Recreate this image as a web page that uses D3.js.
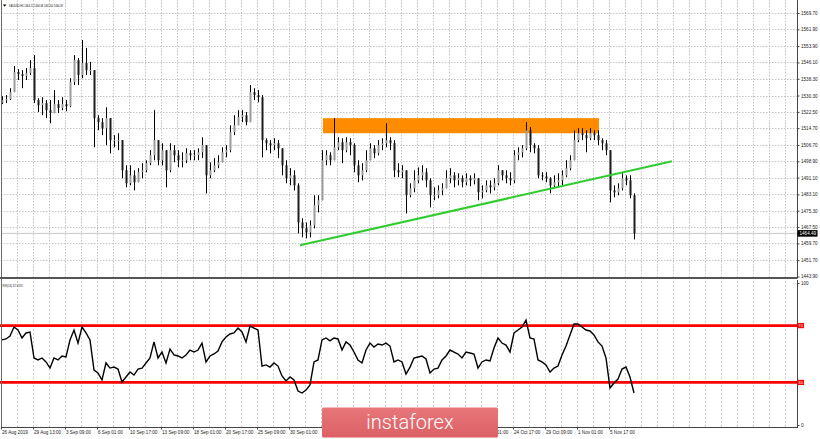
<!DOCTYPE html>
<html><head><meta charset="utf-8">
<script src="https://cdn.jsdelivr.net/npm/d3@7"></script>
<style>html,body{margin:0;padding:0;background:#fff;overflow:hidden}</style>
</head><body>
<svg id="c" width="820" height="439"></svg>
<script>
// ---------- DATA ----------
const symbolTitle = "XAUUSD,H4 1464.22 1464.68 1461.60 1464.49";
const rsiTitle = "RSI(14) 22.5374";
const firstOpen = 1527.0;
const highs = [
1530.0,1530.5,1533.8,1544.4,1542.9,1542.4,1543.4,1547.2,1549.6,1529.0,
1529.5,1528.1,1528.1,1532.9,1528.1,1529.5,1528.1,1538.6,1549.6,1548.2,
1556.8,1553.0,1546.3,1541.5,1520.9,1519.5,1524.7,1518.5,1511.4,1512.3,
1509.0,1497.0,1497.0,1494.6,1495.6,1498.0,1499.4,1504.2,1523.3,1506.6,
1507.5,1504.2,1507.5,1506.6,1504.2,1503.2,1505.1,1504.2,1504.2,1505.1,
1510.4,1506.6,1498.4,1500.4,1501.8,1505.6,1506.6,1516.1,1520.9,1523.3,
1523.3,1522.4,1535.3,1533.8,1532.9,1530.5,1509.9,1509.0,1509.9,1509.0,
1505.1,1499.4,1495.6,1494.6,1488.4,1471.7,1469.7,1470.7,1482.7,1482.7,
1504.2,1504.2,1503.2,1519.5,1510.4,1509.9,1510.4,1509.9,1507.5,1499.4,
1498.0,1504.2,1507.5,1506.6,1509.0,1509.9,1517.1,1510.4,1509.0,1498.0,
1497.0,1494.6,1488.4,1494.6,1496.0,1497.0,1495.6,1490.8,1486.5,1487.4,
1488.4,1494.6,1495.6,1493.7,1493.2,1492.2,1493.2,1492.2,1493.2,1490.8,
1487.4,1489.8,1489.8,1490.8,1497.0,1494.6,1494.6,1493.7,1504.2,1505.6,
1506.6,1517.6,1515.2,1507.5,1506.6,1493.7,1493.7,1491.3,1492.2,1493.2,
1494.6,1499.4,1501.8,1513.7,1514.7,1514.7,1513.7,1514.7,1513.7,1513.7,
1509.9,1509.0,1501.8,1487.4,1488.4,1493.2,1492.2,1492.2,1483.6];
const lows = [
1526.2,1526.7,1528.1,1531.9,1537.7,1533.8,1537.7,1540.1,1526.7,1522.4,
1520.9,1519.5,1517.1,1522.4,1521.9,1523.3,1522.8,1524.7,1535.3,1535.3,
1538.6,1540.1,1540.1,1505.6,1513.7,1511.4,1506.6,1502.7,1505.6,1504.2,
1490.8,1486.5,1487.4,1485.0,1488.9,1490.8,1493.7,1497.0,1499.4,1497.0,
1497.0,1486.5,1493.7,1498.4,1496.0,1496.0,1498.0,1499.4,1499.4,1499.4,
1500.4,1483.6,1490.8,1493.7,1495.6,1499.4,1500.8,1503.2,1511.4,1516.1,
1517.6,1516.1,1517.6,1528.1,1527.1,1500.8,1504.2,1502.7,1504.2,1500.4,
1492.2,1488.4,1487.4,1485.0,1464.5,1462.6,1462.1,1462.6,1466.9,1474.5,
1480.3,1497.0,1497.0,1499.4,1504.2,1498.0,1503.2,1501.8,1493.7,1488.9,
1489.8,1493.7,1499.4,1500.4,1501.8,1504.2,1505.6,1504.2,1491.3,1491.3,
1490.8,1474.0,1481.7,1484.1,1488.4,1489.8,1486.5,1476.9,1480.3,1481.2,
1482.7,1486.0,1488.4,1486.5,1487.4,1486.5,1487.4,1487.0,1487.9,1480.3,
1481.2,1484.1,1483.6,1485.0,1487.4,1489.8,1488.4,1487.4,1488.4,1499.4,
1500.8,1504.2,1503.2,1502.7,1490.8,1489.8,1488.9,1483.6,1486.0,1486.5,
1487.4,1491.3,1494.6,1499.4,1508.0,1509.0,1503.2,1509.0,1509.0,1506.6,
1504.2,1501.8,1479.3,1481.7,1482.7,1485.0,1487.4,1481.2,1461.6];
const closes = [
1528.1,1528.6,1531.9,1541.5,1540.5,1539.6,1541.0,1543.4,1528.1,1525.7,
1526.7,1523.3,1521.9,1526.2,1524.3,1526.2,1525.2,1536.7,1547.2,1540.1,
1545.8,1542.4,1542.4,1519.5,1517.6,1514.7,1519.5,1509.0,1509.0,1509.0,
1494.6,1488.4,1492.2,1488.9,1493.7,1494.6,1498.0,1501.8,1509.0,1499.4,
1504.2,1494.6,1504.2,1501.8,1499.4,1499.4,1502.7,1501.8,1501.8,1503.2,
1506.6,1492.2,1494.6,1497.0,1498.4,1503.2,1504.2,1512.8,1516.1,1520.0,
1520.9,1517.6,1531.9,1530.5,1529.5,1509.0,1507.5,1506.6,1507.5,1505.1,
1497.0,1490.8,1492.2,1487.4,1469.7,1466.9,1465.0,1468.3,1477.9,1480.3,
1499.4,1501.8,1499.4,1505.6,1508.0,1504.2,1508.0,1506.6,1497.0,1492.2,
1494.6,1499.4,1505.1,1502.7,1506.6,1507.5,1509.0,1507.5,1494.6,1493.7,
1494.6,1482.7,1486.0,1489.8,1492.2,1493.7,1489.8,1482.7,1482.7,1485.0,
1486.0,1490.8,1492.2,1489.8,1490.8,1488.9,1490.8,1489.8,1490.8,1484.1,
1485.0,1487.4,1486.5,1488.4,1494.6,1492.2,1490.8,1489.8,1501.8,1503.2,
1505.1,1513.7,1506.6,1505.1,1492.2,1491.7,1490.8,1487.4,1488.9,1489.8,
1492.2,1495.6,1499.4,1509.0,1512.3,1511.4,1509.9,1512.3,1511.4,1509.0,
1507.5,1504.2,1485.0,1484.1,1486.0,1490.8,1489.8,1482.7,1464.49];
const rsi = [
59.9,60.6,62.7,69.0,66.9,61.3,64.8,65.5,47.2,45.8,
47.2,44.4,40.1,47.2,45.8,48.6,47.9,59.9,66.9,57.7,
69.0,64.8,59.9,38.7,36.6,31.7,43.7,40.1,40.8,39.4,
30.3,33.8,37.3,35.2,39.4,40.1,43.7,47.2,58.5,47.2,
51.4,43.7,53.5,49.3,48.6,47.2,49.3,52.8,51.4,52.8,
57.7,44.4,48.6,50.0,52.1,58.5,62.0,64.1,64.8,68.3,
65.5,58.5,69.7,68.3,66.9,41.5,42.3,40.8,43.7,41.5,
34.5,31.0,33.8,31.7,23.9,22.5,24.6,28.2,44.4,45.8,
59.9,61.3,59.2,61.3,60.6,52.8,58.5,56.3,51.4,45.8,
43.7,52.8,57.7,54.9,57.0,56.3,57.7,55.6,44.4,45.8,
44.4,35.9,40.8,47.2,47.9,48.6,46.5,36.6,39.4,40.1,
45.8,48.6,52.8,51.4,50.0,47.2,51.4,50.7,50.0,40.1,
44.4,45.8,45.1,54.2,61.3,57.7,56.3,51.4,64.8,66.9,
69.0,73.9,61.3,60.6,45.8,44.4,42.3,37.3,40.1,41.5,
49.3,55.6,63.4,71.1,71.1,69.0,66.9,66.2,63.4,58.5,
55.6,47.2,26.1,29.6,32.4,39.4,40.8,33.8,22.54];
const priceTicks = [1569.70,1561.90,1553.90,1546.10,1538.30,1530.30,1522.50,1514.70,1506.70,1498.90,1491.10,1483.10,1475.30,1467.50,1459.70,1451.70,1443.90];
const timeLabels = ["26 Aug 2019","29 Aug 13:00","3 Sep 09:00","6 Sep 01:00","10 Sep 17:00","13 Sep 09:00","18 Sep 01:00","20 Sep 17:00","25 Sep 09:00","30 Sep 01:00","2 Oct 17:00","7 Oct 09:00","10 Oct 01:00","14 Oct 17:00","17 Oct 09:00","22 Oct 01:00","24 Oct 17:00","29 Oct 09:00","1 Nov 01:00","5 Nov 17:00"];
const lastPrice = 1464.49;
const rsiLevels = [70, 30];
const rsiAxisTicks = [100, 0];
// drawn objects (bar index / price coordinates)
const resistanceZone = {i0: 80.25, i1: 149.25, top: 1519.5, bottom: 1512.3};
const trendLine = {i0: 74.5, p0: 1458.8, i1: 167.5, p1: 1498.9};

// ---------- SCALES ----------
const svg = d3.select('#c');
const FONT = "'Liberation Sans', Arial, sans-serif";
const right = 797;
const logoBox = {x: 322, y: 407.5, w: 176, h: 30};
const x = d3.scaleLinear().domain([0, 158]).range([2, 634]);
const y = d3.scaleLinear().domain([1443.9, 1569.7]).range([276.5, 13]);
const yr = d3.scaleLinear().domain([0, 100]).range([425, 283]);
const gridIdx = d3.range(1, 50).map(k => 4 * k - 0.25);
const labelIdx = timeLabels.map((t, k) => 8 * k - 0.25);

svg.append('rect').attr('width', 820).attr('height', 439).attr('fill', '#fff');

// ---------- GRID ----------
const grid = svg.append('g').attr('stroke', '#c4c4c4').attr('stroke-width', 1).attr('stroke-dasharray', '1.5,1.5');
grid.selectAll('line.h').data(priceTicks).join('line')
  .attr('x1', 1).attr('x2', right).attr('y1', d => Math.round(y(d)) + 0.5).attr('y2', d => Math.round(y(d)) + 0.5);
grid.selectAll('line.v').data(gridIdx).join('line')
  .attr('x1', d => Math.round(x(d)) + 0.5).attr('x2', d => Math.round(x(d)) + 0.5).attr('y1', 0).attr('y2', 278);
const grid2 = svg.append('g').attr('stroke', '#cfcfcf').attr('stroke-width', 1).attr('stroke-dasharray', '2,2');
grid2.selectAll('line').data(gridIdx).join('line')
  .attr('x1', d => Math.round(x(d)) + 0.5).attr('x2', d => Math.round(x(d)) + 0.5).attr('y1', 281).attr('y2', 427);

// current price line
svg.append('line').attr('x1', 1).attr('x2', right).attr('y1', y(lastPrice)).attr('y2', y(lastPrice))
  .attr('stroke', '#c8c8c8').attr('stroke-width', 1);

// ---------- RESISTANCE ZONE ----------
svg.append('rect')
  .attr('x', x(resistanceZone.i0)).attr('width', x(resistanceZone.i1) - x(resistanceZone.i0))
  .attr('y', y(resistanceZone.top)).attr('height', y(resistanceZone.bottom) - y(resistanceZone.top))
  .attr('fill', '#ff8c00');

// ---------- CANDLES ----------
const bars = closes.map((c, i) => ({i, o: i ? closes[i - 1] : firstOpen, h: highs[i], l: lows[i], c}));
const cg = svg.append('g');
cg.selectAll('line').data(bars).join('line')
  .attr('x1', d => Math.round(x(d.i)) + 0.5).attr('x2', d => Math.round(x(d.i)) + 0.5)
  .attr('y1', d => y(Math.max(d.h, d.o, d.c))).attr('y2', d => y(Math.min(d.l, d.o, d.c)))
  .attr('stroke', '#000').attr('stroke-width', 1);
cg.selectAll('rect').data(bars).join('rect')
  .attr('x', d => Math.round(x(d.i)) - 0.5).attr('width', 2)
  .attr('y', d => y(Math.max(d.o, d.c)))
  .attr('height', d => Math.max(1, Math.abs(y(d.o) - y(d.c))))
  .attr('fill', d => d.c >= d.o ? '#9c9c9c' : '#1c1c1c');

// ---------- TRENDLINE ----------
svg.append('line')
  .attr('x1', x(trendLine.i0)).attr('y1', y(trendLine.p0))
  .attr('x2', x(trendLine.i1)).attr('y2', y(trendLine.p1))
  .attr('stroke', '#2ecc2e').attr('stroke-width', 2);

// ---------- RSI ----------
svg.selectAll('line.lvl').data(rsiLevels).join('line').attr('class', 'lvl')
  .attr('x1', 0).attr('x2', right).attr('y1', d => yr(d)).attr('y2', d => yr(d))
  .attr('stroke', '#ff0000').attr('stroke-width', 2.6);
svg.append('path').datum(rsi)
  .attr('d', d3.line().x((d, i) => x(i)).y(d => yr(d)))
  .attr('fill', 'none').attr('stroke', '#000').attr('stroke-width', 1.4);

// ---------- FRAME ----------
svg.append('line').attr('x1', 1.5).attr('x2', 1.5).attr('y1', 0).attr('y2', 428).attr('stroke', '#6a6a6a');
svg.append('line').attr('x1', 0).attr('x2', right + 0.5).attr('y1', 278).attr('y2', 278).attr('stroke', '#555').attr('stroke-width', 1.8);

// price axis
const ya = svg.append('g').attr('transform', `translate(${right + 0.5},0)`)
  .call(d3.axisRight(y).tickValues(priceTicks).tickFormat(d3.format('.2f')).tickSize(2).tickPadding(1.5));
ya.select('.domain').attr('d', 'M0,0V278').attr('stroke', '#444');
ya.selectAll('text').attr('font-family', FONT).attr('font-size', 4.6).attr('fill', '#222');
ya.selectAll('line').attr('stroke', '#444');

// rsi axis
const ra = svg.append('g').attr('transform', `translate(${right + 0.5},0)`)
  .call(d3.axisRight(yr).tickValues(rsiAxisTicks).tickFormat(d3.format('d')).tickSize(2).tickPadding(1.5));
ra.select('.domain').attr('d', 'M0,280V428').attr('stroke', '#444');
ra.selectAll('text').attr('font-family', FONT).attr('font-size', 4.6).attr('fill', '#222');
ra.selectAll('line').attr('stroke', '#444');

// rsi level tags
const lt = svg.selectAll('g.lt').data(rsiLevels).join('g').attr('class', 'lt')
  .attr('transform', d => `translate(${right + 0.5},${yr(d)})`);
lt.append('rect').attr('x', 0).attr('y', -2.6).attr('width', 6.5).attr('height', 5.2).attr('fill', '#ff0000');
lt.append('text').attr('x', 0.8).attr('y', 1.6).text(d => d).attr('font-family', FONT).attr('font-size', 4.2).attr('fill', '#fff');

// last price tag
const lp = svg.append('g').attr('transform', `translate(${right + 0.5},${y(lastPrice)})`);
lp.append('rect').attr('x', 0).attr('y', -3.3).attr('width', 20).attr('height', 6.6).attr('fill', '#000');
lp.append('text').attr('x', 2).attr('y', 1.7).text(d3.format('.2f')(lastPrice))
  .attr('font-family', FONT).attr('font-size', 4.6).attr('fill', '#fff');

// time axis (labels lying under the watermark are hidden by it, as in the reference)
const ta = svg.append('g').attr('transform', 'translate(0,427.5)')
  .call(d3.axisBottom(x).tickValues(labelIdx).tickFormat((d, k) => timeLabels[k]).tickSize(2).tickPadding(1.5));
ta.select('.domain').attr('d', `M1,0H${right + 0.5}`).attr('stroke', '#444');
ta.selectAll('line').attr('stroke', '#444');
ta.selectAll('text').attr('font-family', FONT).attr('font-size', 4.6).attr('fill', '#222')
  .attr('text-anchor', 'start').attr('dx', 0.5);
ta.selectAll('.tick').filter(d => x(d) > logoBox.x - 4 && x(d) + 26 < logoBox.x + logoBox.w + 4).remove();

// titles
svg.append('path').attr('d', 'M3,4.5L6.4,4.5L4.7,6.8Z').attr('fill', '#000');
svg.append('text').attr('x', 9).attr('y', 7).text(symbolTitle)
  .attr('font-family', FONT).attr('font-size', 3.8).attr('fill', '#111')
  .attr('textLength', 54).attr('lengthAdjust', 'spacingAndGlyphs');
svg.append('text').attr('x', 2.5).attr('y', 286.5).text(rsiTitle)
  .attr('font-family', FONT).attr('font-size', 3.6).attr('fill', '#111')
  .attr('textLength', 20).attr('lengthAdjust', 'spacingAndGlyphs');

// ---------- WATERMARK ----------
const defs = svg.append('defs');
const gr = defs.append('linearGradient').attr('id', 'lg').attr('x1', 0).attr('x2', 0).attr('y1', 0).attr('y2', 1);
gr.append('stop').attr('offset', '0%').attr('stop-color', '#e8777a');
gr.append('stop').attr('offset', '100%').attr('stop-color', '#db6064');
svg.append('rect').attr('x', logoBox.x).attr('y', logoBox.y).attr('width', logoBox.w).attr('height', logoBox.h)
  .attr('rx', 1.5).attr('fill', 'url(#lg)');
svg.append('text').attr('x', logoBox.x + logoBox.w / 2).attr('y', 429).attr('text-anchor', 'middle')
  .text('instaforex').attr('font-family', "Roboto, 'Open Sans', sans-serif").attr('font-weight', 300)
  .attr('font-size', 20).attr('fill', '#fff');
</script>
</body></html>
